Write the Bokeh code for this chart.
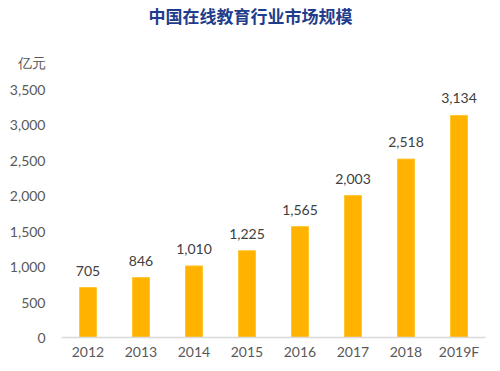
from bokeh.plotting import figure
from bokeh.models import ColumnDataSource, Label, NumeralTickFormatter, FixedTicker, Range1d
from bokeh.core.properties import value
from bokeh.embed import file_html
from bokeh.resources import INLINE

years = ["2012", "2013", "2014", "2015", "2016", "2017", "2018", "2019F"]
values = [705, 846, 1010, 1225, 1565, 2003, 2518, 3134]
value_labels = ["705", "846", "1,010", "1,225", "1,565", "2,003", "2,518", "3,134"]
y_ticks = [0, 500, 1000, 1500, 2000, 2500, 3000, 3500]
title_text = "中国在线教育行业市场规模"
unit_text = "亿元"

# layout constants (pixels): axis from 0 at y=337 to 3500 at y=89
FRAME_H = 337
PX_PER_UNIT = 248 / 3500
Y_MAX = FRAME_H / PX_PER_UNIT
UNIT_POS = (FRAME_H - 62) / PX_PER_UNIT   # where the unit label sits

src = ColumnDataSource(dict(x=years, top=values, lab=value_labels))

p = figure(x_range=years, y_range=Range1d(0, Y_MAX), title=None,
           frame_width=424, frame_height=FRAME_H,
           output_backend="svg", toolbar_location=None,
           min_border_left=61, min_border_right=10, min_border_top=0, min_border_bottom=26)
p.outline_line_color = None
p.background_fill_color = "white"
p.border_fill_color = "white"
p.xgrid.grid_line_color = None
p.ygrid.grid_line_color = None

p.vbar(x="x", top="top", width=0.32, source=src, fill_color="#FFB300", line_color="#FFC533")
p.text(x="x", y="top", text="lab", source=src, text_align="center", text_baseline="bottom",
       y_offset=-12, text_font_size="14px", text_color="#404040", text_font=value("Lato"))

p.yaxis.ticker = FixedTicker(ticks=y_ticks + [UNIT_POS])
p.yaxis.formatter = NumeralTickFormatter(format="0,0")
p.yaxis.major_label_overrides = {UNIT_POS: unit_text}
p.yaxis.axis_line_color = None
p.yaxis.major_tick_line_color = None
p.yaxis.minor_tick_line_color = None
p.yaxis.major_tick_out = 0
p.yaxis.major_tick_in = 0
p.yaxis.major_label_standoff = 16
p.yaxis.major_label_text_font_size = "14px"
p.yaxis.major_label_text_color = "#595959"
p.yaxis.major_label_text_font = "Lato"

p.xaxis.axis_line_color = "#D9D9D9"
p.xaxis.axis_line_width = 1.5
p.xaxis.major_tick_line_color = None
p.xaxis.minor_tick_line_color = None
p.xaxis.major_tick_out = 0
p.xaxis.major_tick_in = 0
p.xaxis.major_label_standoff = 5
p.xaxis.major_label_text_font_size = "14px"
p.xaxis.major_label_text_color = "#595959"
p.xaxis.major_label_text_font = "Lato"

p.add_layout(Label(x=189, y=FRAME_H - 15, x_units="screen", y_units="screen",
                   text=title_text, text_align="center", text_baseline="middle",
                   text_font="Noto Sans CJK SC", text_font_style="bold", text_font_size="17px",
                   text_color="#1F3D8C"))

open("out.html", "w").write(file_html(p, INLINE))
